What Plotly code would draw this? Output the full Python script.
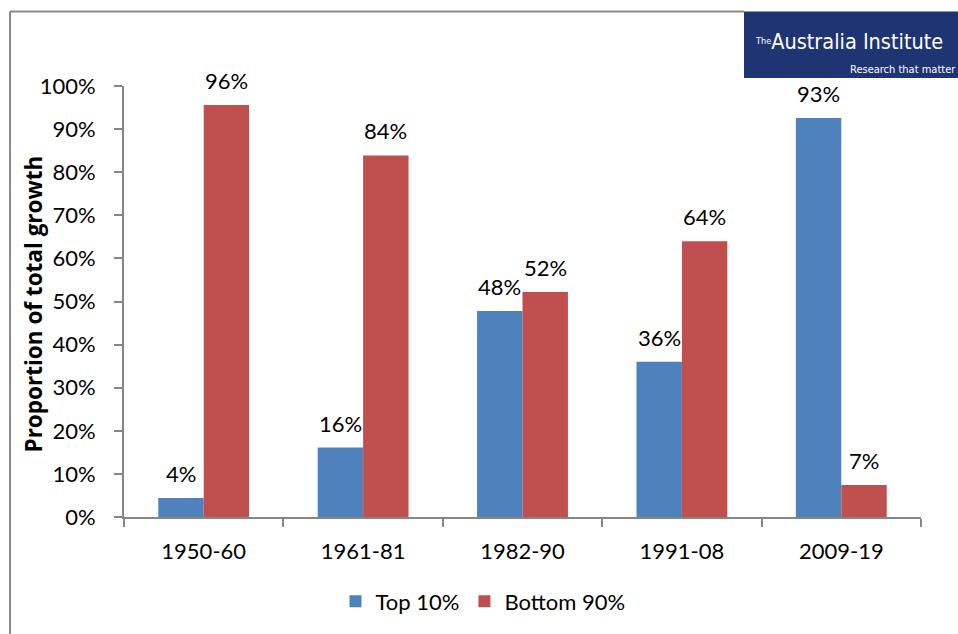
import plotly.graph_objects as go

periods = ["1950-60", "1961-81", "1982-90", "1991-08", "2009-19"]
top10 = [4.4, 16.1, 47.8, 36.0, 92.6]
bottom90 = [95.6, 83.9, 52.2, 64.0, 7.4]
series_names = ["Top 10%", "Bottom 90%"]
colors = ["#4F81BD", "#C0504D"]
y_ticks = list(range(0, 101, 10))
y_tick_labels = [f"{v}%" for v in y_ticks]

W, H = 958, 634
L, R, T, B = 124, 37, 86, 114
PW, PH = W - L - R, H - T - B


def px(x):
    return (x - L) / PW


def py(y):
    return (H - B - y) / PH


FONT = "Lato, 'Open Sans', sans-serif"

fig = go.Figure()
for name, vals, c in zip(series_names, [top10, bottom90], colors):
    fig.add_trace(go.Bar(x=periods, y=vals, name=name, marker_color=c,
                         marker_line_width=0))

ann = []
bar_px = PW / 5 * (1 - 0.43) / 2
for vals, sh in [(top10, -bar_px / 2), (bottom90, bar_px / 2)]:
    for p, v in zip(periods, vals):
        ann.append(dict(x=p, y=v, xref="x", yref="y", text=f"{round(v)}%",
                        showarrow=False, xshift=sh, yshift=9, yanchor="bottom",
                        xanchor="center",
                        font=dict(size=22, color="black", family=FONT)))

# y-axis title
ann.append(dict(x=px(33), y=py(306), xref="paper", yref="paper",
                text="<b>Proportion of total growth</b>", textangle=-90,
                showarrow=False, xanchor="center", yanchor="middle",
                font=dict(size=22.5, color="black",
                          family="'Open Sans', Lato, sans-serif")))

# logo texts
LOGO_FONT = "'DejaVu Sans Condensed', 'Liberation Sans Narrow', sans-serif"
ann.append(dict(x=px(753), y=py(41), xref="paper", yref="paper",
                text="<span style='font-size:13px'><sup>The</sup></span>Australia Institute",
                showarrow=False, xanchor="left", yanchor="middle",
                font=dict(size=21.5, color="white", family=LOGO_FONT)))
ann.append(dict(x=px(958), y=py(69), xref="paper", yref="paper",
                text="Research that matter", showarrow=False,
                xanchor="right", yanchor="middle",
                font=dict(size=11, color="white", family=LOGO_FONT)))

shapes = [
    dict(type="rect", xref="paper", yref="paper", x0=px(744), x1=px(960),
         y0=py(78), y1=py(11), fillcolor="#1F3473", line_width=0, layer="above"),
    dict(type="line", xref="paper", yref="paper", x0=px(10), x1=px(10),
         y0=py(11), y1=py(640), line=dict(color="#8C8C8C", width=2)),
    dict(type="line", xref="paper", yref="paper", x0=px(10), x1=px(744),
         y0=py(11), y1=py(11), line=dict(color="#8C8C8C", width=2)),
]

fig.update_layout(
    width=W, height=H, margin=dict(l=L, r=R, t=T, b=B),
    paper_bgcolor="white", plot_bgcolor="white",
    barmode="group", bargap=0.43, bargroupgap=0,
    font=dict(family=FONT, size=22, color="black"),
    annotations=ann, shapes=shapes,
    showlegend=True,
    legend=dict(orientation="h", x=px(483), xanchor="center", y=py(605),
                yanchor="middle", font=dict(size=22), itemsizing="constant",
                traceorder="normal", itemwidth=30),
)
fig.update_xaxes(type="category", showline=True, linecolor="#868686", linewidth=2,
                 ticks="outside", tickson="boundaries", ticklen=8,
                 tickcolor="#868686", tickwidth=2, ticklabelstandoff=14,
                 showgrid=False, fixedrange=True)
fig.update_yaxes(range=[0, 100], tickmode="array", tickvals=y_ticks,
                 ticktext=y_tick_labels,
                 showline=True, linecolor="#868686", linewidth=2,
                 ticks="outside", ticklen=8, tickcolor="#868686", tickwidth=2,
                 ticklabelstandoff=14, showgrid=False, zeroline=False,
                 fixedrange=True)

fig.write_html("out.html")
